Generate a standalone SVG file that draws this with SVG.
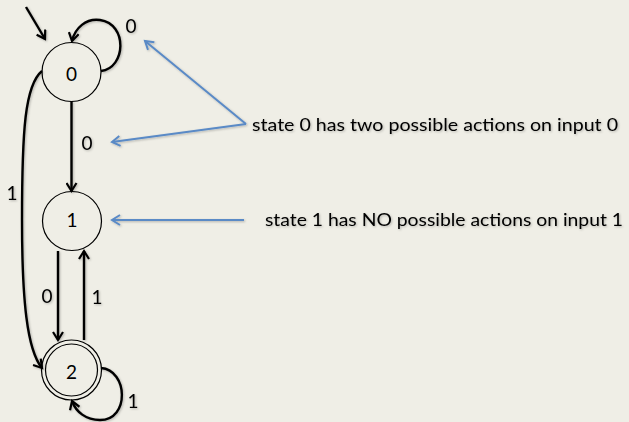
<svg xmlns="http://www.w3.org/2000/svg" width="629" height="422" viewBox="0 0 629 422">
<defs>
<style>
.st{fill:none;stroke:#000;stroke-width:1.2}
.e{fill:none;stroke:#000;stroke-width:2.4}
.b{fill:none;stroke:#5A8AC6;stroke-width:2}
.t{font-family:Lato,"Liberation Sans",sans-serif;font-size:18px;fill:#000}
.d{font-size:19px;text-anchor:middle}
</style>
<marker id="ah" markerWidth="12" markerHeight="12" refX="9" refY="6" orient="auto" markerUnits="userSpaceOnUse">
<path d="M1,1 L9,6 L1,11" fill="none" stroke="#000" stroke-width="2.2"/>
</marker>
<marker id="bh" markerWidth="12" markerHeight="12" refX="9" refY="6" orient="auto" markerUnits="userSpaceOnUse">
<path d="M1,1 L9,6 L1,11" fill="none" stroke="#5A8AC6" stroke-width="2"/>
</marker>
<filter id="sh" x="-10%" y="-10%" width="120%" height="120%">
<feDropShadow dx="1" dy="1" stdDeviation="0.8" flood-color="#000" flood-opacity="0.25"/>
</filter>
</defs>
<rect width="629" height="422" fill="#EFEEE6"/>
<g id="connectors" filter="url(#sh)">
<path class="e" d="M26,7 L45,39" marker-end="url(#ah)"/>
<path class="e" d="M101,71 C126,68 128,24 100,20 C86,18 75,28 72,41" marker-end="url(#ah)"/>
<path class="e" d="M71.5,101 L71.5,191" marker-end="url(#ah)"/>
<path class="e" d="M42,71 C25,85 22,130 22,220 C22,300 27,350 42,368" marker-end="url(#ah)"/>
<path class="e" d="M58,251 L58,340" marker-end="url(#ah)"/>
<path class="e" d="M84,340 L84,251" marker-end="url(#ah)"/>
<path class="e" d="M101,368 C128,370 130,420 100,420 C86,420 76,412 72,401" marker-end="url(#ah)"/>
<path class="b" d="M246,124 L145,41" marker-end="url(#bh)"/>
<path class="b" d="M246,124 L112,142" marker-end="url(#bh)"/>
<path class="b" d="M244,220 L112,220" marker-end="url(#bh)"/>
</g>
<g id="s0"><circle class="st" cx="71.5" cy="72" r="29.5" fill="#EFEEE6"/><text class="t d" x="71.5" y="80.5">0</text></g>
<g id="s1"><circle class="st" cx="72" cy="221" r="29.5" fill="#EFEEE6"/><text class="t d" x="72" y="227">1</text></g>
<g id="s2"><circle class="st" cx="71.5" cy="370" r="30" fill="#EFEEE6"/><circle class="st" cx="71.5" cy="370" r="26"/><text class="t d" x="71.5" y="379">2</text></g>
<g id="labels" filter="url(#sh)">
<text class="t d" x="131" y="33">0</text>
<text class="t d" x="87" y="150">0</text>
<text class="t d" x="12" y="200">1</text>
<text class="t d" x="47" y="303">0</text>
<text class="t d" x="97" y="304">1</text>
<text class="t d" x="133" y="408">1</text>
<text class="t" x="252" y="131" textLength="366" lengthAdjust="spacingAndGlyphs">state 0 has two possible actions on input 0</text>
<text class="t" x="265" y="226" textLength="358" lengthAdjust="spacingAndGlyphs">state 1 has NO possible actions on input 1</text>
</g>
</svg>
